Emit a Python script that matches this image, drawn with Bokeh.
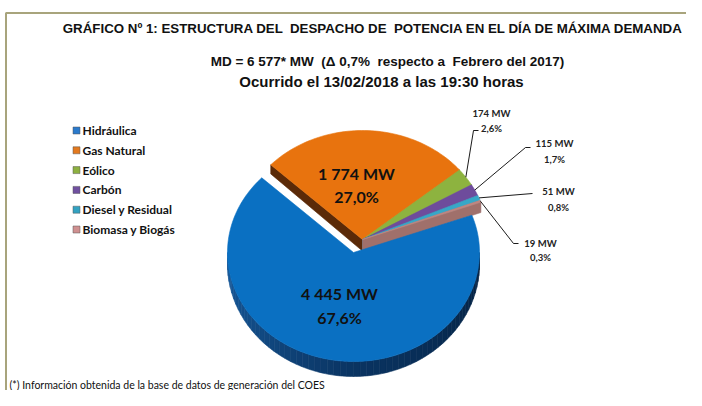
import numpy as np
from bokeh.plotting import figure
from bokeh.models import Range1d, ColumnDataSource
from bokeh.core.properties import value
from bokeh.embed import file_html
from bokeh.resources import INLINE

# ---------------- data ----------------
categories = ["Hidráulica", "Gas Natural", "Eólico", "Carbón", "Diesel y Residual", "Biomasa y Biogás"]
mw = [4445, 1774, 174, 115, 51, 19]
mw_labels = ["4 445 MW", "1 774 MW", "174 MW", "115 MW", "51 MW", "19 MW"]
pct_labels = ["67,6%", "27,0%", "2,6%", "1,7%", "0,8%", "0,3%"]

NB = "\u00a0"
title_text = "GRÁFICO Nº 1: ESTRUCTURA DEL " + NB + "DESPACHO DE " + NB + "POTENCIA EN EL DÍA DE MÁXIMA DEMANDA"
subtitle_1 = "MD = 6 577* MW " + NB + "(Δ 0,7% " + NB + "respecto a " + NB + "Febrero del 2017)"
subtitle_2 = "Ocurrido el 13/02/2018 a las 19:30 horas"
footer_text = "(*) Información obtenida de la base de datos de generación del COES"

# ---------------- styles ----------------
top_colors = ["#0a70c2", "#e8730e", "#8db33f", "#6e4c9c", "#37a7c7", "#c08680"]
wall_ccw_colors = ["#0b3f70", "#5b2a08", "#6b8a2c", "#4d3377", "#2686a3", "#a0706b"]
wall_cw_colors = ["#0b3f70", "#b9580a", "#6b8a2c", "#4d3377", "#2686a3", "#a0706b"]
legend_colors = ["#2a7acc", "#e3791e", "#8db040", "#7050a0", "#32a2c2", "#cf9090"]

W, H = 686, 390
p = figure(width=W, height=H, x_range=Range1d(0, W), y_range=Range1d(H, 0),
           output_backend="svg", toolbar_location=None, min_border=0,
           x_axis_location=None, y_axis_location=None)
p.grid.visible = False
p.outline_line_color = None
p.background_fill_color = "white"
p.border_fill_color = "white"

# frame border (olive line top and left)
p.line(x=[5.5, 5.5, W], y=[H, 12.5, 12.5], line_color="#a8a47c", line_width=2)

# ---------------- 3D pie geometry ----------------
CX, CY, RX, RY = 362.0, 239.0, 126.0, 109.0
D_CENTER, D_AMP = 11.5, 3.5          # side depth: thicker at front, thinner at back
START = 20.0
explode = [(-9.0, 13.0), (0.0, 0.0), (0.0, 0.0), (0.0, 0.0), (0.0, 0.0), (0.0, 0.0)]

vals = np.array(mw, dtype=float)
spans = vals / vals.sum() * 360.0
hi = START - np.concatenate([[0.0], np.cumsum(spans)[:-1]])
lo = hi - spans


def depth(t):
    return D_CENTER - D_AMP * np.sin(np.radians(t))


def rim(t, ox, oy, bottom=False):
    r = np.radians(t)
    dz = depth(t) if bottom else 0.0
    return CX + ox + RX * np.cos(r), CY + oy - RY * np.sin(r) + dz


def lerp_col(c1, c2, f):
    return tuple(int(round(a + (b - a) * f)) for a, b in zip(c1, c2))


def blue_wall_color(t):
    f = ((t % 360) - 180.0) / 180.0
    f = min(max(f, 0.0), 1.0)
    c0, c1, c2 = (24, 92, 158), (10, 52, 98), (5, 34, 66)
    if f < 0.5:
        c = lerp_col(c0, c1, f / 0.5)
    else:
        c = lerp_col(c1, c2, (f - 0.5) / 0.5)
    return "#%02x%02x%02x" % c


pxs, pys, pfill = [], [], []


def add(xs, ys, col):
    pxs.append(list(map(float, xs)))
    pys.append(list(map(float, ys)))
    pfill.append(col)


order = [1, 2, 3, 4, 5, 0]
for i in order:
    ox, oy = explode[i]
    vx, vy = CX + ox, CY + oy
    l0 = lo[i] % 360.0
    h0 = l0 + spans[i]
    # outer wall (front half only)
    for a, b in [(180.0, 360.0), (540.0, 720.0)]:
        s, e = max(l0, a), min(h0, b)
        if e > s:
            n = max(int((e - s) / 3.0), 1)
            edges = np.linspace(s, e, n + 1)
            for k in range(n):
                ts = np.linspace(edges[k], edges[k + 1], 4)
                x1, y1 = rim(ts, ox, oy)
                x2, y2 = rim(ts[::-1], ox, oy, bottom=True)
                col = blue_wall_color(0.5 * (edges[k] + edges[k + 1])) if i == 0 else wall_cw_colors[i]
                add(np.concatenate([x1, x2]), np.concatenate([y1, y2]), col)
    # radial walls
    if np.cos(np.radians(hi[i])) < 0:
        x1, y1 = rim(hi[i], ox, oy)
        x2, y2 = rim(hi[i], ox, oy, bottom=True)
        add([vx, x1, x2, vx], [vy, y1, y2, vy + D_CENTER], wall_ccw_colors[i])
    if np.cos(np.radians(lo[i])) > 0:
        x1, y1 = rim(lo[i], ox, oy)
        x2, y2 = rim(lo[i], ox, oy, bottom=True)
        add([vx, x1, x2, vx], [vy, y1, y2, vy + D_CENTER], wall_cw_colors[i])
    # top face
    ts = np.linspace(lo[i], hi[i], max(int(spans[i] / 1.5), 3))
    x1, y1 = rim(ts, ox, oy)
    add(np.concatenate([[vx], x1]), np.concatenate([[vy], y1]), top_colors[i])

src = ColumnDataSource(dict(xs=pxs, ys=pys, fill=pfill))
p.patches("xs", "ys", source=src, fill_color="fill", line_color="fill", line_width=0.6)

# ---------------- leader lines for small slices ----------------
mid = 0.5 * (lo + hi)
leader_bends = {2: [(473, 130), (478, 130)], 3: [(525, 147), (530, 147)],
                4: [(532, 193)], 5: [(513, 243), (518, 243)]}
lxs, lys = [], []
for i, pts in leader_bends.items():
    sx, sy = rim(mid[i], *explode[i])
    lxs.append([float(sx)] + [q[0] for q in pts])
    lys.append([float(sy)] + [q[1] for q in pts])
p.multi_line(lxs, lys, line_color="black", line_width=0.9)

# small slice labels
small_pos = {2: (491, 113, 128), 3: (554, 143, 159), 4: (558, 191, 207), 5: (540, 243, 257)}
sx_, sy_, st_ = [], [], []
for i, (x, y1, y2) in small_pos.items():
    sx_ += [x, x]
    sy_ += [y1, y2]
    st_ += [mw_labels[i], pct_labels[i]]
p.text(x=sx_, y=sy_, text=st_, text_font=value("Lato"), text_font_style="bold",
       text_font_size="9.5px", text_align="center", text_baseline="middle", text_color="#222222")

# big slice labels
big_pos = {0: (339, 293, 317), 1: (356, 173, 196)}
bx, by, bt = [], [], []
for i, (x, y1, y2) in big_pos.items():
    bx += [x, x]
    by += [y1, y2]
    bt += [mw_labels[i], pct_labels[i]]
p.text(x=bx, y=by, text=bt, text_font=value("Lato"), text_font_style="bold",
       text_font_size="16px", text_align="center", text_baseline="middle", text_color="#111111")

# ---------------- legend ----------------
ly = [130 + 19.8 * k for k in range(len(categories))]
p.rect(x=[76] * len(categories), y=ly, width=7, height=7, fill_color=legend_colors,
       line_color="#555555", line_width=0.5)
p.text(x=[82] * len(categories), y=ly, text=categories, text_font=value("Lato"),
       text_font_style="bold", text_font_size="12px", text_align="left",
       text_baseline="middle", text_color="#111111")

# ---------------- titles / footer ----------------
p.text(x=[373], y=[28], text=[title_text], text_font=value("Liberation Sans"),
       text_font_style="bold", text_font_size="13.3px", text_align="center",
       text_baseline="middle", text_color="#111111")
p.text(x=[387], y=[61], text=[subtitle_1],
       text_font=value("Liberation Sans"), text_font_style="bold",
       text_font_size="13.5px", text_align="center", text_baseline="middle",
       text_color="#111111")
p.text(x=[381], y=[81], text=[subtitle_2],
       text_font=value("Liberation Sans"), text_font_style="bold",
       text_font_size="15px", text_align="center", text_baseline="middle",
       text_color="#111111")
p.text(x=[9], y=[384], text=[footer_text], text_font=value("Lato"),
       text_font_size="10.5px", text_align="left", text_baseline="middle",
       text_color="#111111")

open("out.html", "w").write(file_html(p, INLINE))
